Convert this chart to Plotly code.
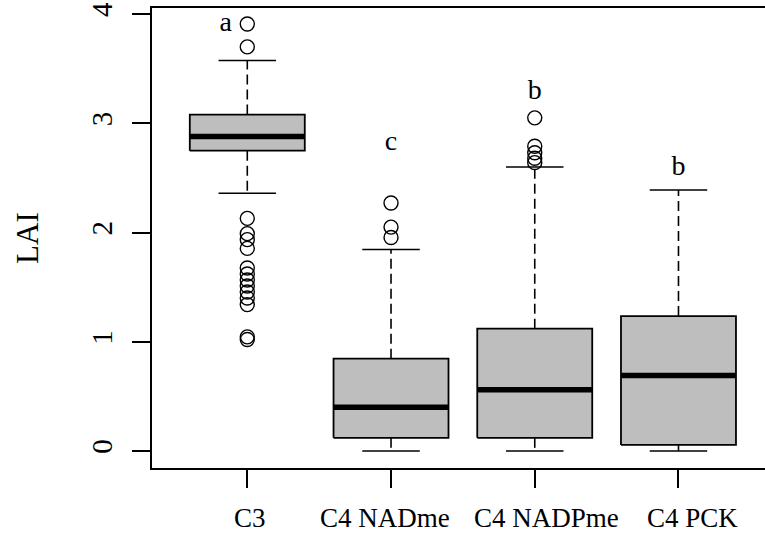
import plotly.graph_objects as go

categories = ["C3", "C4 NADme", "C4 NADPme", "C4 PCK"]
label_x = [1.02, 1.96, 3.08, 4.10]
q1 = [2.75, 0.12, 0.12, 0.055]
median = [2.88, 0.40, 0.56, 0.69]
q3 = [3.08, 0.845, 1.12, 1.235]
whisker_low = [2.36, 0.0, 0.0, 0.0]
whisker_high = [3.575, 1.845, 2.60, 2.39]
outliers = [
    [3.91, 3.70, 2.13, 1.99, 1.935, 1.855, 1.675, 1.62, 1.565, 1.51, 1.455, 1.40, 1.34, 1.045, 1.02],
    [2.27, 2.05, 1.955],
    [3.05, 2.79, 2.73, 2.68, 2.64],
    [],
]
letters = ["a", "c", "b", "b"]
letter_x = [0.85, 2.0, 3.0, 4.0]
letter_y = [3.91, 2.82, 3.29, 2.59]

BOX_HALF = 0.4
CAP_HALF = 0.2
FONT = "Liberation Serif, Times New Roman, serif"

fig = go.Figure()

for i, cat in enumerate(categories):
    xc = i + 1
    # whiskers (dashed)
    fig.add_trace(go.Scatter(
        x=[xc, xc, None, xc, xc],
        y=[q3[i], whisker_high[i], None, q1[i], whisker_low[i]],
        mode="lines", line=dict(color="black", width=1.6, dash="10px,5px"),
        hoverinfo="skip", showlegend=False))
    # caps
    fig.add_trace(go.Scatter(
        x=[xc - CAP_HALF, xc + CAP_HALF, None, xc - CAP_HALF, xc + CAP_HALF],
        y=[whisker_high[i], whisker_high[i], None, whisker_low[i], whisker_low[i]],
        mode="lines", line=dict(color="black", width=1.6),
        hoverinfo="skip", showlegend=False))
    # box
    fig.add_trace(go.Scatter(
        x=[xc - BOX_HALF, xc + BOX_HALF, xc + BOX_HALF, xc - BOX_HALF, xc - BOX_HALF],
        y=[q1[i], q1[i], q3[i], q3[i], q1[i]],
        mode="lines", fill="toself", fillcolor="#bebebe",
        line=dict(color="black", width=1.8),
        hoverinfo="skip", showlegend=False))
    # median
    fig.add_trace(go.Scatter(
        x=[xc - BOX_HALF, xc + BOX_HALF], y=[median[i], median[i]],
        mode="lines", line=dict(color="black", width=5.5),
        hoverinfo="skip", showlegend=False))
    # outliers
    if outliers[i]:
        fig.add_trace(go.Scatter(
            x=[xc] * len(outliers[i]), y=outliers[i], mode="markers",
            marker=dict(symbol="circle-open", size=14, color="black",
                        line=dict(width=1.4, color="black")),
            hoverinfo="skip", showlegend=False))

fig.add_trace(go.Scatter(
    x=letter_x, y=letter_y, mode="text", text=letters,
    textfont=dict(family=FONT, size=28, color="black"),
    textposition="middle center", hoverinfo="skip", showlegend=False,
    cliponaxis=False))

annotations = [dict(
    text="LAI", xref="paper", yref="paper", x=-0.204, y=0.5,
    textangle=-90, showarrow=False, xanchor="center", yanchor="middle",
    font=dict(family=FONT, size=31, color="black"))]
for lx, lab in zip(label_x, categories):
    annotations.append(dict(
        text=lab, xref="x", yref="paper", x=lx, y=-0.108,
        showarrow=False, xanchor="center", yanchor="middle",
        font=dict(family=FONT, size=27, color="black")))

fig.update_layout(
    width=765, height=536,
    margin=dict(l=152, r=0, t=8, b=68),
    paper_bgcolor="white", plot_bgcolor="white",
    font=dict(family=FONT, color="black"),
    xaxis=dict(
        range=[0.337, 4.602], tickvals=[1, 2, 3, 4], showticklabels=False,
        showgrid=False, zeroline=False, showline=True, mirror=True,
        linecolor="black", linewidth=1.6, automargin=False,
        ticks="outside", ticklen=18, tickwidth=1.5, tickcolor="black",
    ),
    yaxis=dict(
        range=[-0.156, 4.056], tickvals=[0, 1, 2, 3, 4],
        showgrid=False, zeroline=False, showline=True,
        linecolor="black", linewidth=1.6, automargin=False,
        ticks="outside", ticklen=18, tickwidth=1.5, tickcolor="black",
        tickangle=-90,
        tickfont=dict(family=FONT, size=29, color="black"),
        ticklabelstandoff=9,
    ),
    annotations=annotations,
)

fig.write_html("out.html", config={"displayModeBar": False},
               post_script="document.body.style.margin='0';")
